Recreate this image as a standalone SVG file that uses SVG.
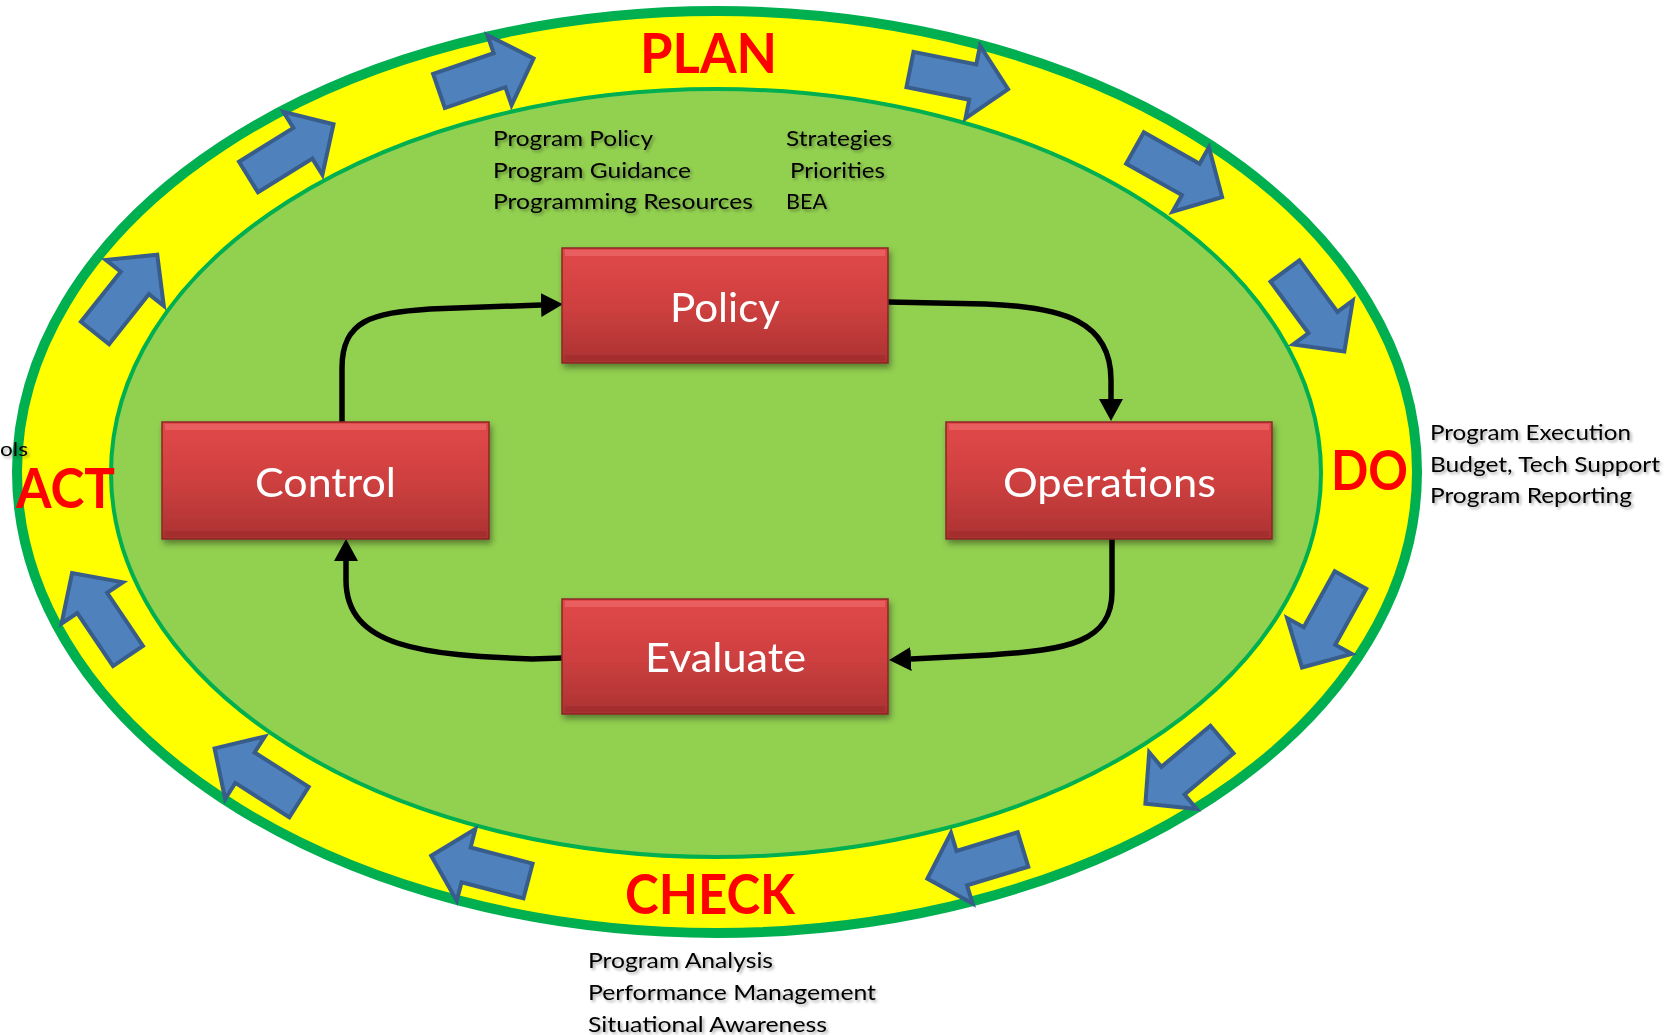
<svg xmlns="http://www.w3.org/2000/svg" xmlns:xlink="http://www.w3.org/1999/xlink" width="1668" height="1035" viewBox="0 0 1668 1035">
<style>
.lbl{font-family:Lato,"Open Sans","DejaVu Sans",sans-serif;font-size:22px;fill:#000;}
.phase{font-family:Lato,"Open Sans","DejaVu Sans",sans-serif;font-weight:bold;font-size:56px;fill:#FF0000;}
.boxtxt{font-family:Lato,"Open Sans","DejaVu Sans",sans-serif;font-size:41px;fill:#fff;text-anchor:middle;}
.box{fill:url(#redgrad);stroke:#8A2626;stroke-width:1.5;}
.conn{fill:none;stroke:#000;stroke-width:5.5;}
.blue{fill:#4F81BD;stroke:#385D8A;stroke-width:4;stroke-linejoin:miter;}
</style>
<defs>
<linearGradient id="redgrad" x1="0" y1="0" x2="0" y2="1">
<stop offset="0" stop-color="#E24848"/>
<stop offset="0.5" stop-color="#CF4040"/>
<stop offset="1" stop-color="#AC3232"/>
</linearGradient>
<filter id="shadow" x="-10%" y="-10%" width="125%" height="135%">
<feDropShadow dx="2" dy="4" stdDeviation="3" flood-color="#000" flood-opacity="0.4"/>
</filter>
<filter id="tshadow" x="-5%" y="-30%" width="115%" height="170%">
<feDropShadow dx="2" dy="2" stdDeviation="1.5" flood-color="#000" flood-opacity="0.35"/>
</filter>
<marker id="ah" markerUnits="userSpaceOnUse" markerWidth="24" markerHeight="26" refX="0" refY="12" orient="auto">
<path d="M0,0 L22,12 L0,24 z" fill="#000"/>
</marker>
<polygon id="blk" points="0,-18 64,-18 64,-37 100,0 64,37 64,18 0,18"/>
</defs>

<g id="ring">
<ellipse cx="717" cy="472" rx="700" ry="461" fill="#FFFF00" stroke="#00B050" stroke-width="10"/>
<ellipse cx="716" cy="473" rx="605" ry="384" fill="#92D050" stroke="#00B050" stroke-width="4"/>
</g>

<g id="cycle-arrows" class="blue">
<use xlink:href="#blk" transform="translate(439,91) rotate(-19)"/>
<use xlink:href="#blk" transform="translate(910,69.5) rotate(11.3)"/>
<use xlink:href="#blk" transform="translate(1135,148) rotate(29.4)"/>
<use xlink:href="#blk" transform="translate(1285,271) rotate(53.6)"/>
<use xlink:href="#blk" transform="translate(1350.5,580) rotate(119)"/>
<use xlink:href="#blk" transform="translate(1222,739.5) rotate(140)"/>
<use xlink:href="#blk" transform="translate(1023,849.5) rotate(163)"/>
<use xlink:href="#blk" transform="translate(528,881) rotate(-165.4)"/>
<use xlink:href="#blk" transform="translate(299,802) rotate(-147.6)"/>
<use xlink:href="#blk" transform="translate(128,656) rotate(-124)"/>
<use xlink:href="#blk" transform="translate(95,333) rotate(-51.5)"/>
<use xlink:href="#blk" transform="translate(248.5,177) rotate(-31.8)"/>
</g>

<g id="phase-labels">
<text class="phase" x="640" y="73" textLength="137" lengthAdjust="spacingAndGlyphs">PLAN</text>
<text class="phase" x="1331" y="490" textLength="77" lengthAdjust="spacingAndGlyphs">DO</text>
<text class="phase" x="625" y="914" textLength="170" lengthAdjust="spacingAndGlyphs">CHECK</text>
<text class="phase" x="16" y="508" textLength="99" lengthAdjust="spacingAndGlyphs">ACT</text>
</g>

<g id="details" filter="url(#tshadow)">
<text class="lbl" x="493" y="146" textLength="160" lengthAdjust="spacingAndGlyphs">Program Policy</text>
<text class="lbl" x="493" y="178" textLength="198" lengthAdjust="spacingAndGlyphs">Program Guidance</text>
<text class="lbl" x="493" y="209" textLength="260" lengthAdjust="spacingAndGlyphs">Programming Resources</text>
<text class="lbl" x="786" y="146" textLength="106" lengthAdjust="spacingAndGlyphs">Strategies</text>
<text class="lbl" x="790" y="178" textLength="95" lengthAdjust="spacingAndGlyphs">Priorities</text>
<text class="lbl" x="786" y="209" textLength="41" lengthAdjust="spacingAndGlyphs">BEA</text>
<text class="lbl" x="1430" y="440" textLength="201" lengthAdjust="spacingAndGlyphs">Program Execution</text>
<text class="lbl" x="1430" y="472" textLength="230" lengthAdjust="spacingAndGlyphs">Budget, Tech Support</text>
<text class="lbl" x="1430" y="503" textLength="202" lengthAdjust="spacingAndGlyphs">Program Reporting</text>
<text class="lbl" x="588" y="968" textLength="185" lengthAdjust="spacingAndGlyphs">Program Analysis</text>
<text class="lbl" x="588" y="1000" textLength="288" lengthAdjust="spacingAndGlyphs">Performance Management</text>
<text class="lbl" x="588" y="1032" textLength="239" lengthAdjust="spacingAndGlyphs">Situational Awareness</text>
<text class="lbl" x="0" y="456" style="font-size:20px" textLength="28" lengthAdjust="spacingAndGlyphs">ols</text>
</g>

<g id="connectors">
<path class="conn" d="M342,422 V368 C342,320 372,313 430,309 L541,305" marker-end="url(#ah)"/>
<path class="conn" d="M888,302 L985,304 C1065,307 1111,322 1111,380 L1111,399" marker-end="url(#ah)"/>
<path class="conn" d="M1112,539 V592 C1112,642 1068,650 990,655 L911,659" marker-end="url(#ah)"/>
<path class="conn" d="M562,658 L532,659 C425,655 346,648 346,580 L346,561" marker-end="url(#ah)"/>
</g>

<g id="node-policy" filter="url(#shadow)">
<rect class="box" x="562" y="248" width="326" height="115"/>
<rect x="565" y="250" width="320" height="6" fill="#F07272" opacity="0.55"/>
<rect x="565" y="355" width="320" height="6" fill="#8E2828" opacity="0.35"/>
<text class="boxtxt" x="725" y="322" textLength="110" lengthAdjust="spacingAndGlyphs">Policy</text>
</g>
<g id="node-control" filter="url(#shadow)">
<rect class="box" x="162" y="422" width="327" height="117"/>
<rect x="165" y="424" width="321" height="6" fill="#F07272" opacity="0.55"/>
<rect x="165" y="531" width="321" height="6" fill="#8E2828" opacity="0.35"/>
<text class="boxtxt" x="325.5" y="497" textLength="141" lengthAdjust="spacingAndGlyphs">Control</text>
</g>
<g id="node-operations" filter="url(#shadow)">
<rect class="box" x="946" y="422" width="326" height="117"/>
<rect x="949" y="424" width="320" height="6" fill="#F07272" opacity="0.55"/>
<rect x="949" y="531" width="320" height="6" fill="#8E2828" opacity="0.35"/>
<text class="boxtxt" x="1109.5" y="497" textLength="213" lengthAdjust="spacingAndGlyphs">Operations</text>
</g>
<g id="node-evaluate" filter="url(#shadow)">
<rect class="box" x="562" y="599" width="326" height="115"/>
<rect x="565" y="601" width="320" height="6" fill="#F07272" opacity="0.55"/>
<rect x="565" y="706" width="320" height="6" fill="#8E2828" opacity="0.35"/>
<text class="boxtxt" x="725.5" y="672" textLength="161" lengthAdjust="spacingAndGlyphs">Evaluate</text>
</g>
</svg>
